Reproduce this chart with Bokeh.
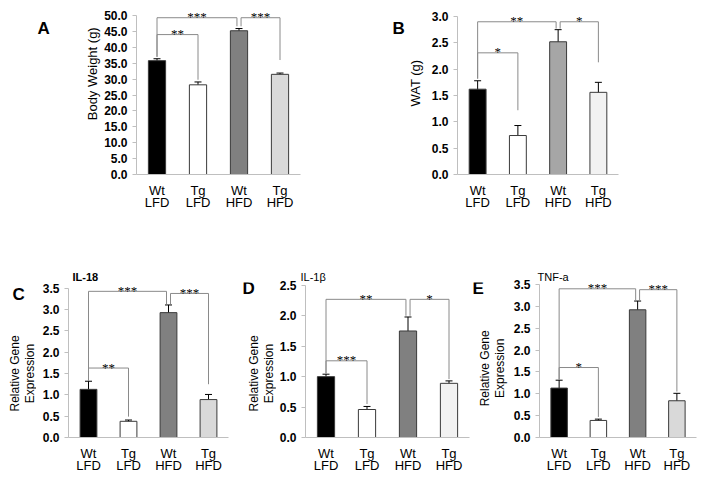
import math
from bokeh.plotting import figure
from bokeh.models import (ColumnDataSource, Whisker, TeeHead, LabelSet,
                          FixedTicker, PrintfTickFormatter, Range1d, FactorRange)
from bokeh.core.properties import value
from bokeh.layouts import row, column
from bokeh.embed import file_html
from bokeh.resources import INLINE

FONT = "Liberation Sans"
groups = ["Wt\nLFD", "Tg\nLFD", "Wt\nHFD", "Tg\nHFD"]

# ---- Panel A: body weight (g)
a_vals = [35.8, 28.2, 45.2, 31.5]
a_errs = [0.6, 0.9, 0.7, 0.4]
a_colors = ["#000000", "#ffffff", "#808080", "#d9d9d9"]
a_ticks = [0, 5, 10, 15, 20, 25, 30, 35, 40, 45, 50]
a_brackets = [(0, 1, 44.0, 37.0, 29.8, "**"),
              (0, 2, 49.3, 37.0, 46.6, "***"),
              (2, 3, 49.3, 46.6, 36.0, "***")]

# ---- Panel B: WAT (g)
b_vals = [1.62, 0.74, 2.52, 1.56]
b_errs = [0.16, 0.19, 0.23, 0.19]
b_colors = ["#000000", "#ffffff", "#a6a6a6", "#f2f2f2"]
b_ticks = [0, 0.5, 1.0, 1.5, 2.0, 2.5, 3.0]
b_brackets = [(0, 1, 2.31, 1.82, 1.22, "*"),
              (0, 2, 2.90, 1.82, 2.77, "**"),
              (2, 3, 2.90, 2.77, 2.13, "*")]

# ---- Panel C: IL-18
c_vals = [1.13, 0.38, 2.93, 0.89]
c_errs = [0.19, 0.03, 0.18, 0.12]
c_colors = ["#000000", "#ffffff", "#808080", "#d9d9d9"]
c_ticks = [0, 0.5, 1.0, 1.5, 2.0, 2.5, 3.0, 3.5]
c_brackets = [(0, 1, 1.63, 1.33, 0.49, "**"),
              (0, 2, 3.43, 1.33, 3.13, "***"),
              (2, 3, 3.38, 3.13, 1.25, "***")]

# ---- Panel D: IL-1b
d_vals = [1.00, 0.46, 1.75, 0.89]
d_errs = [0.04, 0.05, 0.23, 0.04]
d_colors = ["#000000", "#ffffff", "#808080", "#f2f2f2"]
d_ticks = [0, 0.5, 1.0, 1.5, 2.0, 2.5]
d_brackets = [(0, 1, 1.26, 1.05, 0.55, "***"),
              (0, 2, 2.27, 1.05, 2.00, "**"),
              (2, 3, 2.27, 2.00, 0.96, "*")]

# ---- Panel E: TNF-a
e_vals = [1.13, 0.39, 2.92, 0.84]
e_errs = [0.18, 0.03, 0.20, 0.17]
e_colors = ["#000000", "#ffffff", "#808080", "#d9d9d9"]
e_ticks = [0, 0.5, 1.0, 1.5, 2.0, 2.5, 3.0, 3.5]
e_brackets = [(0, 1, 1.60, 1.32, 0.47, "*"),
              (0, 2, 3.40, 1.32, 3.13, "***"),
              (2, 3, 3.38, 3.13, 1.05, "***")]


def gutter(x0, y0, w, h, letter, letter_xy, ylabel, ylabel_xy, ylabel_size):
    """Text-only strip left of a panel (panel letter and y-axis title)."""
    g = figure(width=w, height=h, x_range=Range1d(x0, x0 + w), y_range=Range1d(y0 + h, y0),
               output_backend="svg", toolbar_location=None,
               min_border_left=0, min_border_right=0, min_border_top=0, min_border_bottom=0)
    g.axis.visible = False
    g.grid.visible = False
    g.outline_line_color = None
    g.text(x=[letter_xy[0]], y=[letter_xy[1]], text=[letter], text_font=value(FONT),
           text_font_size="17px", text_font_style="bold", text_align="left",
           text_baseline="middle", text_color="black")
    g.text(x=[ylabel_xy[0]], y=[ylabel_xy[1]], text=[ylabel], angle=math.pi / 2,
           text_font=value(FONT), text_font_size=ylabel_size, text_align="center",
           text_baseline="middle", text_color="black", text_line_height=1.1)
    return g


def panel(vals, errs, colors, ticks, brackets, gm, gene=None, gene_x=None, gene_bold=False):
    ppu = (gm["B"] - gm["axT"]) / ticks[-1]
    ytop = (gm["B"] - gm["T"]) / ppu

    p = figure(width=gm["w"], height=gm["h"], x_range=FactorRange(*groups),
               y_range=Range1d(0, ytop), output_backend="svg", toolbar_location=None,
               min_border_left=gm["L"] - gm["x0"], min_border_right=gm["x0"] + gm["w"] - gm["R"],
               min_border_top=gm["T"] - gm["y0"], min_border_bottom=gm["y0"] + gm["h"] - gm["B"])
    p.outline_line_color = None
    p.grid.visible = False

    src = ColumnDataSource(dict(x=groups, top=vals,
                                upper=[v + e for v, e in zip(vals, errs)],
                                lower=[v - e for v, e in zip(vals, errs)],
                                color=colors))
    p.vbar(x="x", top="top", width=0.42, fill_color="color", line_color="#3a3a3a",
           line_width=1, source=src)
    p.add_layout(Whisker(source=src, base="x", upper="upper", lower="lower",
                         line_color="black", line_width=1,
                         upper_head=TeeHead(size=7, line_color="black", line_width=1),
                         lower_head=TeeHead(size=7, line_color="black", line_width=1)))

    starts = [b[0] for b in brackets]
    ends = [b[1] for b in brackets]
    xs, ys, sx, sy, st = [], [], [], [], []
    for (i, j, top, lb, rb, lab) in brackets:
        x1 = i + 0.5 + (0.05 if i in ends else 0.0)
        x2 = j + 0.5 - (0.05 if j in starts else 0.0)
        xs.append([x1, x1, x2, x2])
        ys.append([lb, top, top, rb])
        sx.append((x1 + x2) / 2)
        sy.append(top)
        st.append(lab)
    p.multi_line(xs, ys, line_color="#8a8a8a", line_width=1)
    ssrc = ColumnDataSource(dict(x=sx, y=sy, t=st))
    p.add_layout(LabelSet(x="x", y="y", text="t", source=ssrc, text_align="center",
                          text_baseline="middle", text_font=FONT, text_font_size="13px",
                          text_color="black", y_offset=1))

    ya = p.yaxis[0]
    ya.ticker = FixedTicker(ticks=ticks)
    ya.formatter = PrintfTickFormatter(format="%.1f")
    ya.bounds = (0, ticks[-1])
    ya.axis_line_color = "#bfbfbf"
    ya.major_tick_line_color = "#bfbfbf"
    ya.major_tick_out = 4
    ya.major_tick_in = 0
    ya.minor_tick_line_color = None
    ya.major_label_text_font = FONT
    ya.major_label_text_font_style = "bold"
    ya.major_label_text_font_size = "12px"
    ya.major_label_text_color = "black"
    ya.major_label_standoff = 5

    xa = p.xaxis[0]
    xa.axis_line_color = "#bfbfbf"
    xa.major_tick_line_color = None
    xa.minor_tick_line_color = None
    xa.major_label_text_font = FONT
    xa.major_label_text_font_size = "13px"
    xa.major_label_text_color = "black"
    xa.major_label_text_line_height = 0.85
    xa.major_label_standoff = 2

    if gene:
        p.title.text = gene
        p.title.align = "left"
        p.title.offset = gene_x - gm["L"]
        p.title.text_font = FONT
        p.title.text_font_size = "11px"
        p.title.text_font_style = "bold" if gene_bold else "normal"
        p.title.text_color = "black"
        p.title.standoff = 0
    return p


# geometry (page pixels): figure origin/size, frame left/right/top/bottom, top tick pixel
gA = dict(x0=101, y0=0, w=229, h=238, L=136, R=300, T=4, B=174, axT=15)
gB = dict(x0=424, y0=0, w=277, h=238, L=457, R=618, T=4, B=174, axT=16)
gC = dict(x0=36, y0=238, w=204, h=242, L=68, R=228, T=282, B=441, axT=288)
gD = dict(x0=276, y0=238, w=194, h=242, L=305, R=469, T=280, B=444, axT=283)
gE = dict(x0=508, y0=238, w=193, h=242, L=539, R=696, T=276, B=437, axT=278)

sA = gutter(0, 0, 101, 238, "A", (37, 33), "Body Weight (g)", (92, 97), "13px")
pA = panel(a_vals, a_errs, a_colors, a_ticks, a_brackets, gA)
sB = gutter(330, 0, 94, 238, "B", (392, 33), "WAT (g)", (415, 110), "13px")
pB = panel(b_vals, b_errs, b_colors, b_ticks, b_brackets, gB)

rel = "Relative Gene\nExpression"
sC = gutter(0, 238, 36, 242, "C", (12, 257), rel, (22, 380), "12px")
pC = panel(c_vals, c_errs, c_colors, c_ticks, c_brackets, gC, "IL-18", 72, True)
sD = gutter(240, 238, 36, 242, "D", (242, 248), rel, (261, 380), "12px")
pD = panel(d_vals, d_errs, d_colors, d_ticks, d_brackets, gD, "IL-1β", 300, False)
sE = gutter(470, 238, 38, 242, "E", (472, 247.5), rel, (492, 372), "12px")
pE = panel(e_vals, e_errs, e_colors, e_ticks, e_brackets, gE, "TNF-a", 537, False)

layout = column(row(sA, pA, sB, pB), row(sC, pC, sD, pD, sE, pE))
open("out.html", "w").write(file_html(layout, INLINE))
